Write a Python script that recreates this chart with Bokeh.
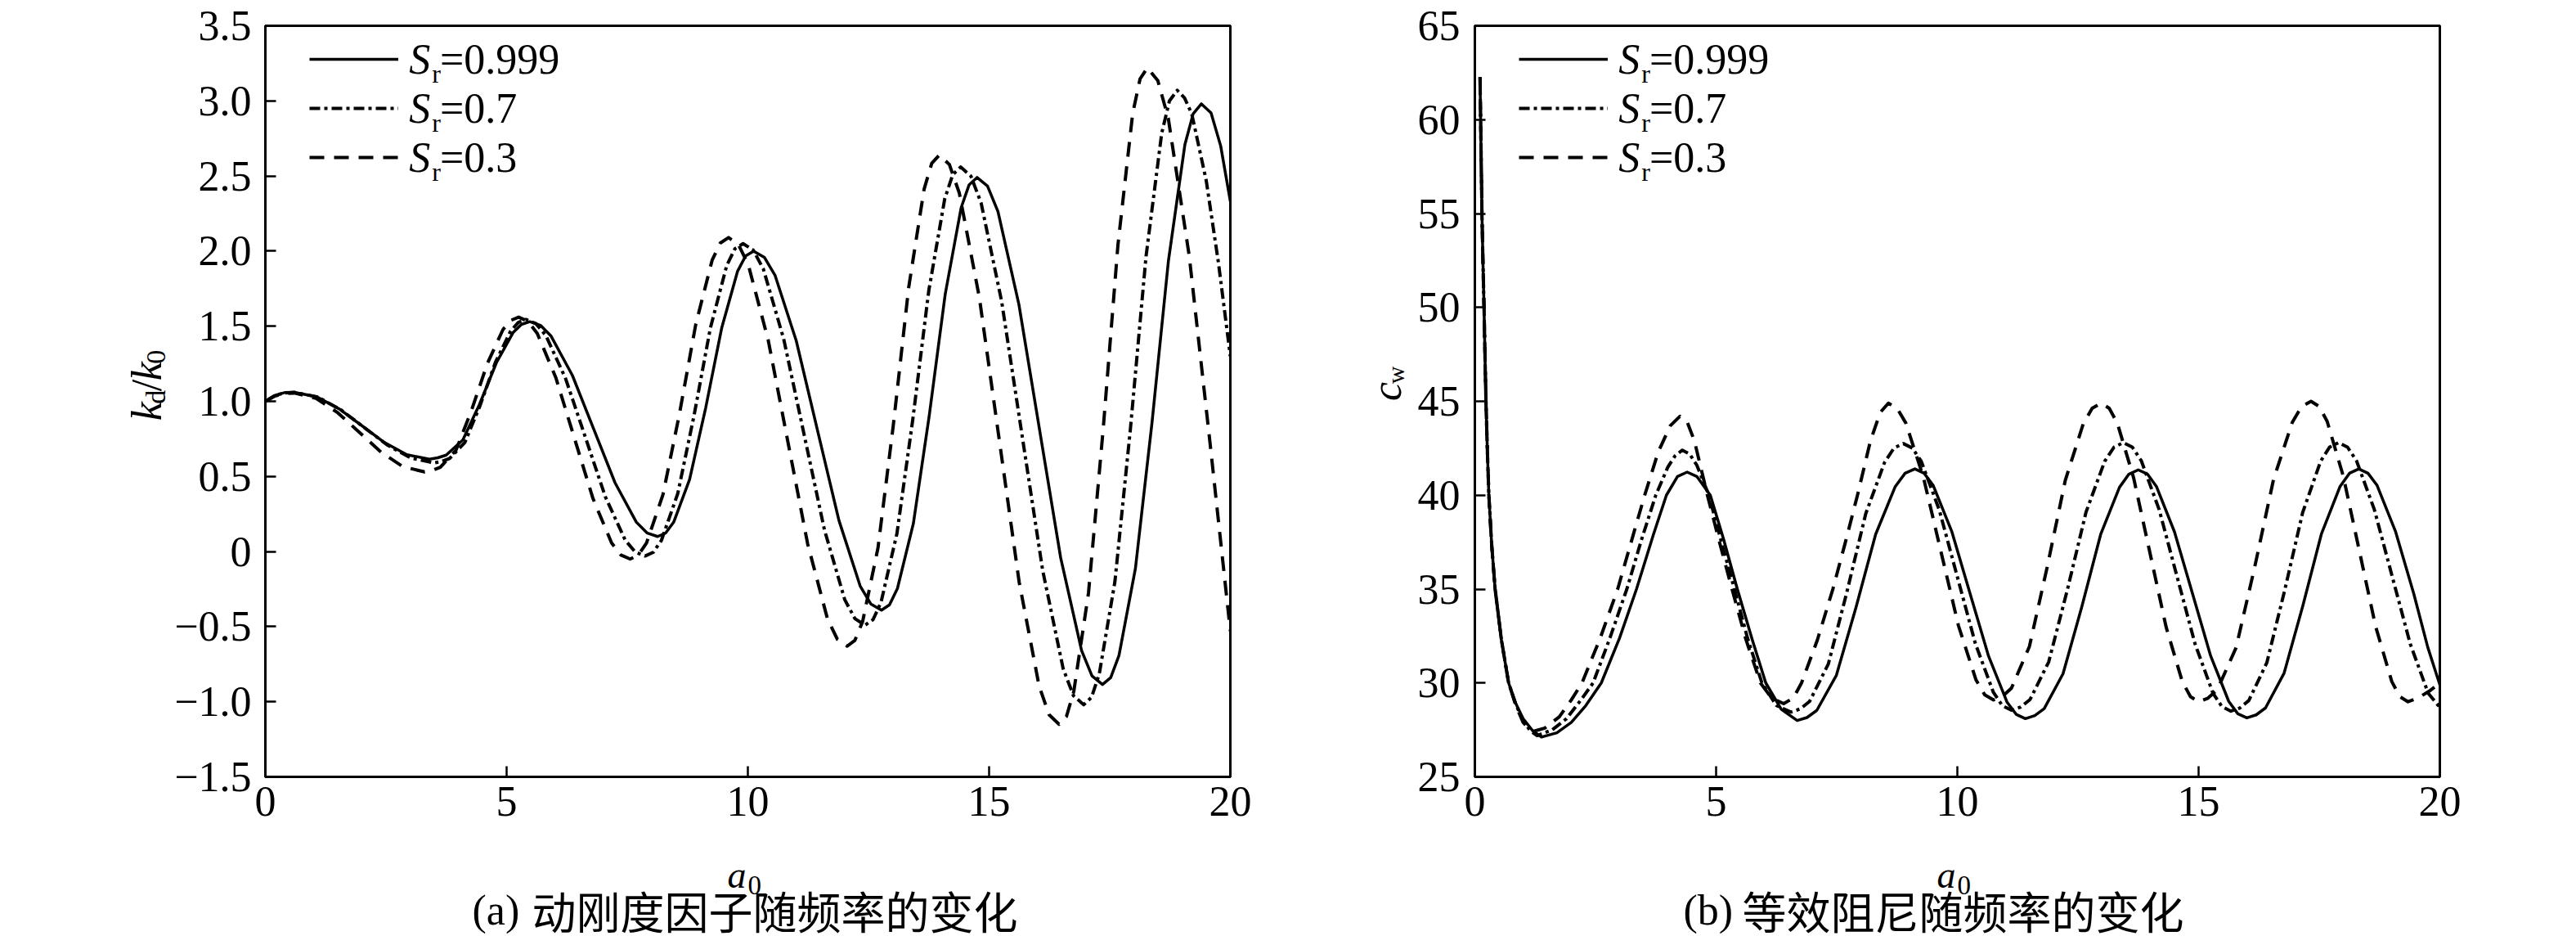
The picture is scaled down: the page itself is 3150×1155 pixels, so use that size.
import math
from bokeh.plotting import figure
from bokeh.layouts import row, column
from bokeh.models import Range1d, FixedTicker, Label, Legend, LegendItem, ColumnDataSource
from bokeh.embed import file_html
from bokeh.resources import INLINE

# ---------------- data ----------------
a0_ticks = [0, 5, 10, 15, 20]
kd_ticks = [-1.5, -1.0, -0.5, 0.0, 0.5, 1.0, 1.5, 2.0, 2.5, 3.0, 3.5]
kd_tick_labels = ["\u22121.5", "\u22121.0", "\u22120.5", "0", "0.5", "1.0", "1.5", "2.0", "2.5", "3.0", "3.5"]
cw_ticks = [25, 30, 35, 40, 45, 50, 55, 60, 65]
series_labels = ["=0.999", "=0.7", "=0.3"]
caption_a = ["(a)", "动刚度因子随频率的变化"]
caption_b = ["(b)", "等效阻尼随频率的变化"]

# (a0, kd/k0) pairs
kd_sr0999 = [
    (0, 1.0), (0.2, 1.04), (0.4, 1.058), (0.6, 1.06), (1.067, 1.030), (1.533, 0.949), (2.0, 0.838),
    (2.467, 0.726), (2.933, 0.645), (3.4, 0.615), (3.573, 0.624), (3.747, 0.642), (4.093, 0.743),
    (4.44, 0.981), (4.787, 1.256), (5.133, 1.457), (5.307, 1.512), (5.48, 1.53), (5.701, 1.506),
    (5.922, 1.434), (6.363, 1.173), (6.805, 0.815), (7.247, 0.458), (7.688, 0.196), (7.909, 0.124),
    (8.13, 0.10), (8.296, 0.123), (8.462, 0.195), (8.793, 0.48), (9.125, 0.955), (9.457, 1.487),
    (9.788, 1.867), (9.954, 1.968), (10.12, 2.0), (10.341, 1.959), (10.562, 1.840), (11.003, 1.403),
    (11.445, 0.805), (11.887, 0.208), (12.328, -0.230), (12.549, -0.349), (12.77, -0.39),
    (12.935, -0.355), (13.10, -0.246), (13.43, 0.186), (13.76, 0.906), (14.09, 1.712), (14.42, 2.288),
    (14.585, 2.441), (14.75, 2.49), (14.967, 2.433), (15.183, 2.264), (15.617, 1.646), (16.05, 0.803),
    (16.483, -0.041), (16.917, -0.659), (17.133, -0.828), (17.35, -0.885), (17.521, -0.839),
    (17.692, -0.692), (18.033, -0.112), (18.375, 0.854), (18.717, 1.936), (19.058, 2.709),
    (19.229, 2.914), (19.40, 2.98), (19.6, 2.92), (19.8, 2.70), (20.0, 2.33),
]
kd_sr07 = [
    (0, 1.0), (0.2, 1.04), (0.4, 1.056), (0.6, 1.06), (1.083, 1.029), (1.567, 0.943), (2.05, 0.825),
    (2.533, 0.708), (3.017, 0.622), (3.5, 0.59), (3.658, 0.600), (3.817, 0.619), (4.133, 0.725),
    (4.45, 0.972), (4.767, 1.259), (5.083, 1.468), (5.242, 1.525), (5.4, 1.545), (5.606, 1.518),
    (5.812, 1.439), (6.223, 1.151), (6.635, 0.758), (7.047, 0.364), (7.458, 0.076), (7.664, -0.003),
    (7.87, -0.03), (8.039, -0.005), (8.208, 0.074), (8.547, 0.386), (8.885, 0.906), (9.223, 1.488),
    (9.562, 1.904), (9.731, 2.015), (9.9, 2.05), (10.111, 2.007), (10.322, 1.880), (10.743, 1.415),
    (11.165, 0.78), (11.587, 0.145), (12.008, -0.320), (12.219, -0.447), (12.43, -0.49),
    (12.595, -0.453), (12.76, -0.338), (13.09, 0.12), (13.42, 0.883), (13.75, 1.737), (14.08, 2.347),
    (14.245, 2.508), (14.41, 2.56), (14.623, 2.499), (14.835, 2.32), (15.26, 1.665), (15.685, 0.77),
    (16.11, -0.125), (16.535, -0.78), (16.748, -0.959), (16.96, -1.02), (17.122, -0.971),
    (17.283, -0.816), (17.607, -0.202), (17.93, 0.821), (18.253, 1.966), (18.577, 2.784),
    (18.738, 3.0), (18.9, 3.07), (19.05, 3.02), (19.2, 2.914), (19.5, 2.47), (19.75, 1.93), (20.0, 1.3),
]
kd_sr03 = [
    (0, 1.0), (0.2, 1.035), (0.4, 1.052), (0.6, 1.055), (1.05, 1.020), (1.5, 0.924), (1.95, 0.793),
    (2.4, 0.661), (2.85, 0.565), (3.3, 0.53), (3.463, 0.540), (3.625, 0.561), (3.95, 0.674),
    (4.275, 0.942), (4.6, 1.251), (4.925, 1.478), (5.088, 1.539), (5.25, 1.56), (5.443, 1.533),
    (5.635, 1.452), (6.02, 1.158), (6.405, 0.755), (6.79, 0.353), (7.175, 0.058), (7.368, -0.023),
    (7.56, -0.05), (7.73, -0.024), (7.90, 0.057), (8.24, 0.378), (8.58, 0.913), (8.92, 1.512),
    (9.26, 1.940), (9.43, 2.054), (9.6, 2.09), (9.805, 2.044), (10.01, 1.908), (10.42, 1.41),
    (10.83, 0.73), (11.24, 0.05), (11.65, -0.448), (11.855, -0.584), (12.06, -0.63),
    (12.219, -0.591), (12.378, -0.467), (12.697, 0.024), (13.015, 0.842), (13.333, 1.757),
    (13.652, 2.411), (13.811, 2.584), (13.97, 2.64), (14.177, 2.576), (14.383, 2.386), (14.797, 1.693),
    (15.21, 0.745), (15.623, -0.203), (16.037, -0.896), (16.243, -1.086), (16.45, -1.15),
    (16.603, -1.098), (16.755, -0.932), (17.06, -0.276), (17.365, 0.817), (17.67, 2.04),
    (17.975, 2.914), (18.128, 3.146), (18.28, 3.22), (18.497, 3.135), (18.713, 2.885), (19.147, 1.97),
    (19.58, 0.72), (20.0, -0.53),
]

# (a0, c_w) pairs
cw_sr0999 = [
    (0.107, 62.27), (0.127, 58.6), (0.147, 55.0), (0.168, 52.4), (0.19, 50.0), (0.21, 47.4), (0.23, 45.0),
    (0.26, 42.3), (0.29, 40.0), (0.35, 37.3), (0.42, 35.0), (0.55, 32.3), (0.70, 30.0), (0.85, 28.9),
    (1.0, 28.1), (1.2, 27.45), (1.38, 27.12), (1.7, 27.35), (2.0, 27.9), (2.3, 28.8), (2.62, 30.0),
    (3.0, 32.4), (3.35, 35.0), (3.7, 37.9), (3.97, 40.0), (4.2, 41.0), (4.40, 41.23), (4.6, 41.0),
    (4.88, 40.0), (5.15, 37.7), (5.44, 35.0), (5.75, 32.3), (6.03, 30.0), (6.35, 28.6), (6.68, 28.0),
    (6.883, 28.16), (7.087, 28.54), (7.493, 30.41), (7.90, 34.03), (8.307, 37.92), (8.713, 40.46),
    (8.917, 41.17), (9.12, 41.4), (9.311, 41.17), (9.502, 40.51), (9.883, 38.08), (10.265, 34.75),
    (10.647, 31.43), (11.028, 28.99), (11.219, 28.33), (11.41, 28.1), (11.605, 28.26), (11.80, 28.63),
    (12.19, 30.49), (12.58, 34.06), (12.97, 37.91), (13.36, 40.42), (13.555, 41.12), (13.75, 41.35),
    (13.938, 41.13), (14.125, 40.47), (14.50, 38.05), (14.875, 34.75), (15.25, 31.44), (15.625, 29.02),
    (15.813, 28.36), (16.0, 28.14), (16.193, 28.30), (16.387, 28.67), (16.773, 30.53), (17.16, 34.11),
    (17.547, 37.95), (17.933, 40.47), (18.127, 41.17), (18.32, 41.4), (18.51, 41.17), (18.7, 40.52),
    (19.08, 38.08), (19.46, 34.75), (19.75, 31.9), (20.0, 29.9),
]
cw_sr07 = [
    (0.107, 62.27), (0.127, 58.6), (0.147, 55.0), (0.168, 52.4), (0.19, 50.0), (0.21, 47.4), (0.23, 45.0),
    (0.26, 42.3), (0.29, 40.0), (0.35, 37.3), (0.42, 35.0), (0.55, 32.3), (0.70, 30.0), (0.85, 28.85),
    (1.0, 28.0), (1.15, 27.45), (1.29, 27.2), (1.6, 27.5), (1.9, 28.1), (2.2, 29.1), (2.45, 30.0),
    (2.8, 32.4), (3.15, 35.0), (3.45, 37.6), (3.75, 40.0), (4.0, 41.5), (4.15, 42.1), (4.3, 42.4),
    (4.45, 42.2), (4.6, 41.6), (4.85, 40.0), (5.1, 37.6), (5.38, 35.0), (5.65, 32.4), (5.95, 30.0),
    (6.25, 28.8), (6.55, 28.45), (6.744, 28.62), (6.938, 29.02), (7.327, 31.02), (7.715, 34.89),
    (8.103, 39.03), (8.492, 41.75), (8.686, 42.51), (8.88, 42.75), (9.067, 42.51), (9.253, 41.80),
    (9.627, 39.20), (10.0, 35.65), (10.373, 32.10), (10.747, 29.50), (10.933, 28.79), (11.12, 28.55),
    (11.313, 28.72), (11.507, 29.12), (11.893, 31.12), (12.28, 34.96), (12.667, 39.10), (13.053, 41.80),
    (13.247, 42.56), (13.44, 42.8), (13.626, 42.56), (13.812, 41.84), (14.183, 39.23), (14.555, 35.65),
    (14.927, 32.08), (15.298, 29.46), (15.484, 28.74), (15.67, 28.5), (15.856, 28.67), (16.042, 29.07),
    (16.413, 31.07), (16.785, 34.94), (17.157, 39.08), (17.528, 41.80), (17.714, 42.56), (17.9, 42.8),
    (18.086, 42.56), (18.272, 41.84), (18.643, 39.23), (19.015, 35.65), (19.387, 32.08),
    (19.758, 29.46), (20.0, 28.7),
]
cw_sr03 = [
    (0.107, 62.27), (0.127, 58.6), (0.147, 55.0), (0.168, 52.4), (0.19, 50.0), (0.21, 47.4), (0.23, 45.0),
    (0.26, 42.3), (0.29, 40.0), (0.35, 37.3), (0.42, 35.0), (0.55, 32.3), (0.70, 30.0), (0.85, 28.8),
    (1.0, 27.9), (1.18, 27.4), (1.45, 27.6), (1.75, 28.2), (2.0, 29.1), (2.22, 30.0), (2.6, 32.4),
    (2.96, 35.0), (3.25, 37.6), (3.52, 40.0), (3.8, 42.3), (4.05, 43.7), (4.25, 44.2), (4.4, 43.9),
    (4.55, 42.9), (4.82, 40.0), (5.07, 37.5), (5.33, 35.0), (5.62, 32.3), (5.92, 30.0), (6.15, 29.2),
    (6.40, 28.9), (6.6, 29.2), (6.77, 30.0), (7.1, 32.3), (7.42, 35.0), (7.68, 37.5), (7.93, 40.0),
    (8.2, 42.9), (8.4, 44.4), (8.57, 44.9), (8.752, 44.63), (8.933, 43.84), (9.297, 40.95), (9.66, 37.0),
    (10.023, 33.05), (10.387, 30.16), (10.568, 29.37), (10.75, 29.1), (10.936, 29.29), (11.122, 29.73),
    (11.493, 31.94), (11.865, 36.21), (12.237, 40.79), (12.608, 43.79), (12.794, 44.63), (12.98, 44.9),
    (13.148, 44.63), (13.317, 43.83), (13.653, 40.93), (13.99, 36.95), (14.327, 32.98), (14.663, 30.07),
    (14.832, 29.27), (15.0, 29.0), (15.194, 29.19), (15.388, 29.64), (15.777, 31.88), (16.165, 36.2),
    (16.553, 40.84), (16.942, 43.88), (17.136, 44.73), (17.33, 45.0), (17.498, 44.73), (17.665, 43.93),
    (18.0, 41.0), (18.335, 37.0), (18.67, 33.0), (19.005, 30.07), (19.173, 29.27), (19.34, 29.0),
    (19.55, 29.2), (19.8, 29.6), (20.0, 30.0),
]

# ---------------- layout / style ----------------
FW, FH = 1181, 918          # plot frame size in px
FTOP = 31                   # frame top offset
TOP_H = FTOP + FH + 72      # height of the row holding the plots
BOT_H = 1155 - TOP_H        # strip holding a0 + caption
SERIF = "Liberation Serif"
CJK = "Noto Sans CJK SC"
DASHES = ["solid", "13 5 4 5", "18 12"]
WIDTHS = [3.5, 4, 4]
LEG_ROWS = [41, 101, 161]   # legend row centres, px below the frame top


def frame_text(p, fx, fy, text, size, italic=False, baseline="alphabetic"):
    """Text at a pixel offset (fx right, fy down) from the plot frame's top-left corner."""
    x0, x1 = p.x_range.start, p.x_range.end
    y0, y1 = p.y_range.start, p.y_range.end
    p.add_layout(Label(x=x0 + fx * (x1 - x0) / FW, y=y1 - fy * (y1 - y0) / FH, text=text,
                       text_font=SERIF, text_font_size=f"{size}px",
                       text_font_style="italic" if italic else "normal",
                       text_color="black", text_baseline=baseline, text_align="left"))


def strip(width, height):
    """A blank figure whose ranges are its own pixels (y downwards), used for outer texts."""
    f = figure(width=width, height=height, x_range=Range1d(0, width), y_range=Range1d(height, 0),
               output_backend="svg", toolbar_location=None, x_axis_type=None, y_axis_type=None,
               min_border_left=0, min_border_right=0, min_border_top=0, min_border_bottom=0)
    f.outline_line_color = None
    f.background_fill_color = "white"
    f.border_fill_color = "white"
    return f


def strip_text(f, x, y, text, size, italic=False, font=SERIF, angle=0.0, baseline="alphabetic"):
    f.add_layout(Label(x=x, y=y, text=text, text_font=font, text_font_size=f"{size}px",
                       text_font_style="italic" if italic else "normal", text_color="black",
                       angle=angle, text_baseline=baseline, text_align="left"))


def plot(width, bl, yr, yticks, overrides, series, ystandoff):
    p = figure(width=width, height=TOP_H, x_range=Range1d(0, 20), y_range=Range1d(*yr),
               output_backend="svg", toolbar_location=None,
               min_border_left=bl, min_border_right=width - bl - FW,
               min_border_top=FTOP, min_border_bottom=TOP_H - FTOP - FH)
    p.background_fill_color = "white"
    p.border_fill_color = "white"
    p.outline_line_color = "black"
    p.outline_line_width = 3
    p.xgrid.grid_line_color = None
    p.ygrid.grid_line_color = None
    p.xaxis.ticker = FixedTicker(ticks=a0_ticks)
    p.yaxis.ticker = FixedTicker(ticks=yticks)
    if overrides:
        p.yaxis.major_label_overrides = overrides
    for ax in (p.xaxis[0], p.yaxis[0]):
        ax.axis_line_width = 3
        ax.axis_line_color = "black"
        ax.major_tick_in = 13
        ax.major_tick_out = 0
        ax.major_tick_line_width = 2.5
        ax.major_tick_line_color = "black"
        ax.minor_tick_line_color = None
        ax.major_label_text_font = SERIF
        ax.major_label_text_font_size = "52px"
        ax.major_label_text_color = "black"
    p.xaxis.major_label_standoff = 12
    p.yaxis.major_label_standoff = ystandoff

    rends = []
    for pts, dash, w in zip(series, DASHES, WIDTHS):
        src = ColumnDataSource(dict(x=[q[0] for q in pts], y=[q[1] for q in pts]))
        rends.append(p.line("x", "y", source=src, line_color="black", line_width=w,
                            line_dash=dash, line_join="round"))

    legend = Legend(items=[LegendItem(label=lab, renderers=[r]) for lab, r in zip(series_labels, rends)],
                    location=(54, FH - (LEG_ROWS[0] - 30) - 180), orientation="vertical",
                    glyph_width=109, glyph_height=60, label_height=60, label_standoff=51,
                    spacing=0, padding=0, margin=0, border_line_color=None,
                    background_fill_alpha=0.0, label_text_font=SERIF,
                    label_text_font_size="52px", label_text_color="black")
    p.add_layout(legend)
    for cy in LEG_ROWS:
        frame_text(p, 176, cy, "S", 52, italic=True, baseline="middle")
        frame_text(p, 204, cy + 17, "r", 32, baseline="middle")
    return p


# ----- panel (a) -----
YLAB_A_W = 210
ylab_a = strip(YLAB_A_W, TOP_H)
for x, y, t, s, it in [(179, 537, "k", 52, True), (190, 514, "d", 34, False), (179, 497, "/", 52, False),
                       (179, 482.5, "k", 52, True), (190, 459.5, "0", 34, False)]:
    strip_text(ylab_a, x, y, t, s, italic=it, angle=math.pi / 2)
plot_a = plot(1560 - YLAB_A_W, 323 - YLAB_A_W, (-1.5, 3.5), kd_ticks, dict(zip(kd_ticks, kd_tick_labels)),
              [kd_sr0999, kd_sr07, kd_sr03], 17)
bot_a = strip(1560, BOT_H)
strip_text(bot_a, 889, 1069 - TOP_H, "a", 46, italic=True)
strip_text(bot_a, 914, 1081 - TOP_H, "0", 33)
strip_text(bot_a, 577, 1112 - TOP_H, caption_a[0], 52, baseline="middle")
strip_text(bot_a, 650, 1112 - TOP_H, caption_a[1], 54, font=CJK, baseline="middle")

# ----- panel (b) -----
YLAB_B_W = 170
ylab_b = strip(YLAB_B_W, TOP_H)
for x, y, t, s, it in [(135, 510, "c", 52, True), (146, 487, "w", 30, False)]:
    strip_text(ylab_b, x, y, t, s, italic=it, angle=math.pi / 2)
plot_b = plot(1586 - YLAB_B_W, 1802 - 1560 - YLAB_B_W, (25, 65), cw_ticks, None,
              [cw_sr0999, cw_sr07, cw_sr03], 18)
bot_b = strip(1586, BOT_H)
strip_text(bot_b, 808, 1069 - TOP_H, "a", 46, italic=True)
strip_text(bot_b, 833, 1081 - TOP_H, "0", 33)
strip_text(bot_b, 2058 - 1560, 1112 - TOP_H, caption_b[0], 52, baseline="middle")
strip_text(bot_b, 2130 - 1560, 1112 - TOP_H, caption_b[1], 54, font=CJK, baseline="middle")

layout = row(column(row(ylab_a, plot_a), bot_a), column(row(ylab_b, plot_b), bot_b))
open("out.html", "w").write(file_html(layout, INLINE))
